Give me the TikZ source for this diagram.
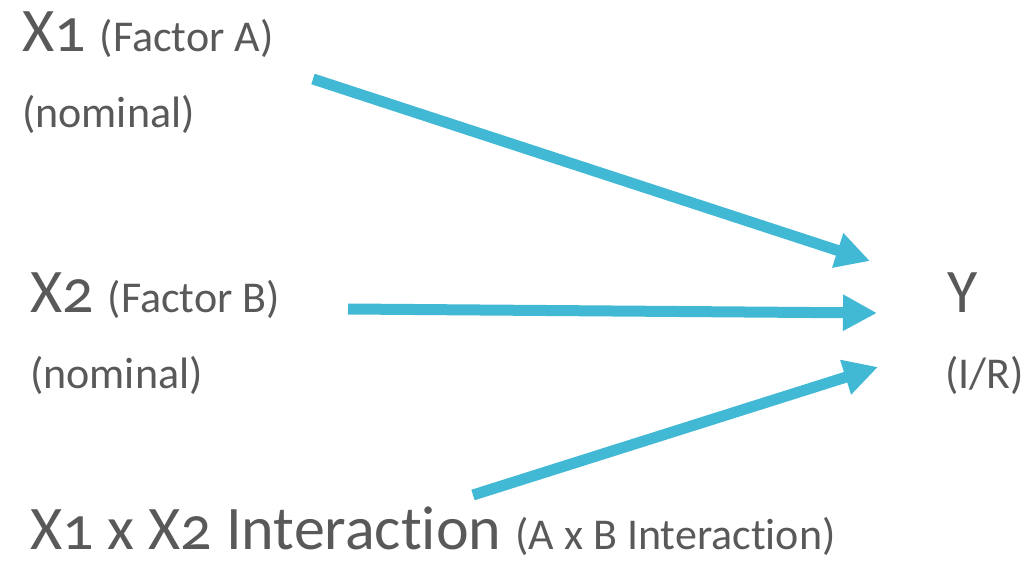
\documentclass[tikz,border=0pt]{standalone}
\usepackage{fontspec}
\setmainfont{Carlito}[Numbers=OldStyle,Ligatures={NoCommon,NoContextual},Contextuals=NoAlternate]
\usetikzlibrary{arrows.meta}
\definecolor{txtgray}{HTML}{595959}
\definecolor{arrowcyan}{HTML}{41B9D4}
\newcommand{\bigtxt}{\fontsize{62}{64}\selectfont}
\newcommand{\midtxt}{\fontsize{44}{46}\selectfont}
\begin{document}
\begin{tikzpicture}[x=1pt,y=-1pt,
  lbl/.style={anchor=base west,inner sep=0pt,text=txtgray},
  link/.style={draw=arrowcyan,line width=11pt,
    -{Triangle[length=34pt,width=34pt]}}]
\useasboundingbox (0,0) rectangle (1024,561);
% predictor and outcome labels
\node[lbl] (x1) at (22,52) {\bigtxt X1 \midtxt(Factor A)};
\node[lbl] (x1lvl) at (22,128) {\midtxt (nominal)};
\node[lbl] (x2) at (30,312) {\bigtxt X2 \midtxt(Factor B)};
\node[lbl] (x2lvl) at (30,388) {\midtxt (nominal)};
\node[lbl] (y) at (947,312) {\bigtxt Y};
\node[lbl] (ylvl) at (945,388) {\midtxt (I/R)};
\node[lbl] (inter) at (30,549) {\bigtxt X1 x X2 Interaction \midtxt(A x B Interaction)};
% arrow end points
\coordinate (a1s) at (313,79);
\coordinate (a1e) at (870,261);
\coordinate (a2s) at (348,309);
\coordinate (a2e) at (877,313);
\coordinate (a3s) at (473,495);
\coordinate (a3e) at (878,367);
\draw[link] (a1s) -- (a1e);
\draw[link] (a2s) -- (a2e);
\draw[link] (a3s) -- (a3e);
\end{tikzpicture}
\end{document}
